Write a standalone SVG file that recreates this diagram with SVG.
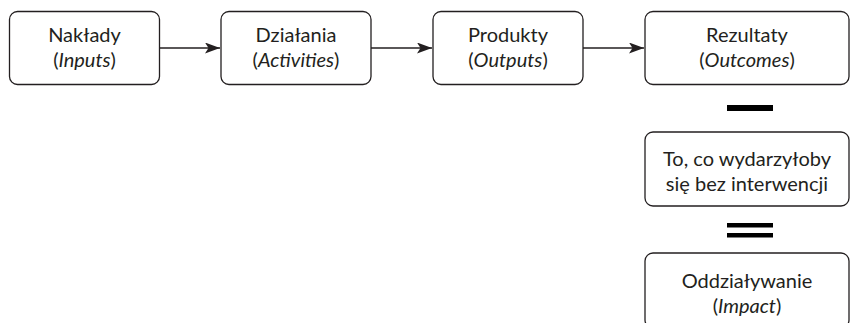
<svg xmlns="http://www.w3.org/2000/svg" width="850" height="323" viewBox="0 0 850 323">
<style>
.box{fill:#fff;stroke:#231f20;stroke-width:1.3}
.t{font-family:Lato,"Open Sans","Liberation Sans",sans-serif;font-size:20px;fill:#231f20;text-anchor:middle}
.i{font-style:italic}
.c{stroke:#231f20;stroke-width:1.3;fill:none}
</style>
<defs>
<marker id="ah" markerWidth="15" markerHeight="11" refX="15" refY="5.5" orient="auto" markerUnits="userSpaceOnUse">
<path d="M0,0 L15,5.5 L0,11 L3.5,5.5 Z" fill="#231f20"/>
</marker>
</defs>
<g id="connectors">
<line class="c" x1="159" y1="48" x2="220" y2="48" marker-end="url(#ah)"/>
<line class="c" x1="371" y1="48" x2="432" y2="48" marker-end="url(#ah)"/>
<line class="c" x1="583" y1="48" x2="644" y2="48" marker-end="url(#ah)"/>
<rect x="727" y="105" width="46" height="6" fill="#000"/>
<rect x="727" y="223" width="46" height="4.5" fill="#000"/>
<rect x="727" y="233" width="46" height="4.5" fill="#000"/>
</g>
<g id="n1">
<rect class="box" x="9.5" y="11.5" width="150" height="73" rx="8"/>
<text class="t" x="84.5" y="42">Nakłady</text>
<text class="t" x="84.5" y="66.5">(<tspan class="i">Inputs</tspan>)</text>
</g>
<g id="n2">
<rect class="box" x="221" y="11.5" width="150" height="73" rx="8"/>
<text class="t" x="296" y="42">Działania</text>
<text class="t" x="296" y="66.5">(<tspan class="i">Activities</tspan>)</text>
</g>
<g id="n3">
<rect class="box" x="433" y="11.5" width="150" height="73" rx="8"/>
<text class="t" x="508" y="42">Produkty</text>
<text class="t" x="508" y="66.5">(<tspan class="i">Outputs</tspan>)</text>
</g>
<g id="n4">
<rect class="box" x="645" y="11.5" width="204" height="73" rx="8"/>
<text class="t" x="747" y="42">Rezultaty</text>
<text class="t" x="747" y="66.5">(<tspan class="i">Outcomes</tspan>)</text>
</g>
<g id="n5">
<rect class="box" x="645" y="132" width="204" height="74" rx="8"/>
<text class="t" x="747" y="166">To, co wydarzyłoby</text>
<text class="t" x="747" y="190.5">się bez interwencji</text>
</g>
<g id="n6">
<rect class="box" x="645" y="253" width="204" height="75" rx="8"/>
<text class="t" x="747" y="288">Oddziaływanie</text>
<text class="t" x="747" y="312.5">(<tspan class="i">Impact</tspan>)</text>
</g>
</svg>
